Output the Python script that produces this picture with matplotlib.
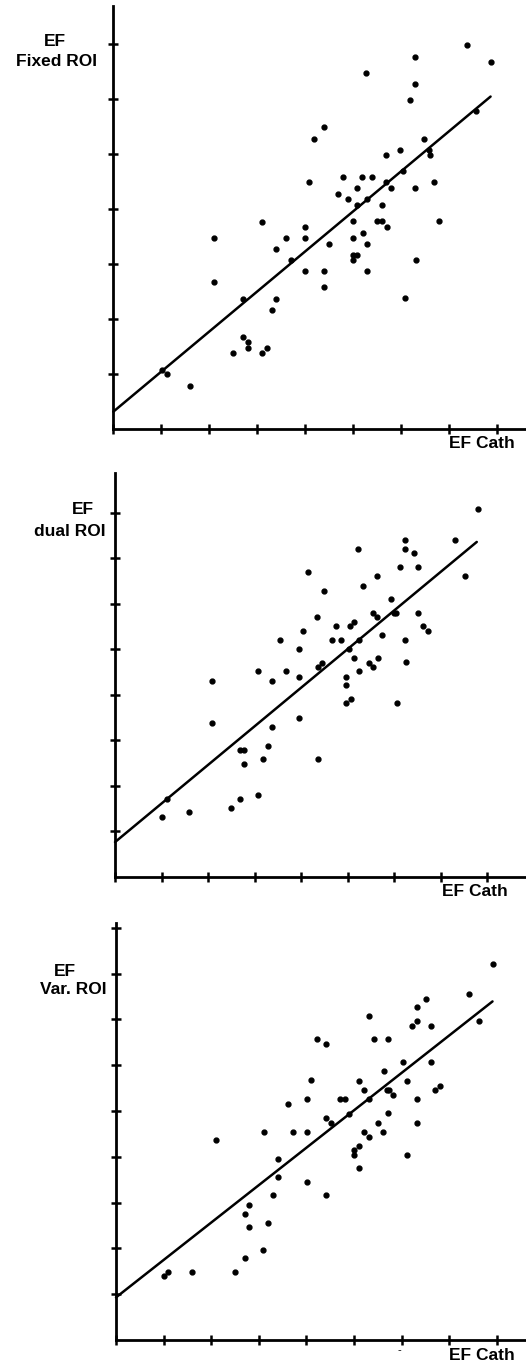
import matplotlib
matplotlib.use('Agg')
import matplotlib.pyplot as plt

plt.rcParams['font.family'] = ['Liberation Sans', 'DejaVu Sans']

# EF Cath vs EF Fixed ROI
cath_fixed = [73.7, 62.8, 78.6, 52.7, 62.9, 61.9, 75.6, 43.8, 41.8, 64.8, 59.8, 65.8, 56.8, 65.9,
              60.4, 47.9, 51.9, 53.8, 40.8, 56.8, 66.8, 50.8, 57.9, 62.9, 46.8, 48.9, 52.9, 50.8,
              55.9, 30.9, 39.9, 49.9, 55.0, 55.9, 57.0, 67.9, 21.0, 35.9, 39.9, 33.9, 44.9, 50.0,
              52.0, 52.9, 50.0, 50.8, 50.0, 37.0, 39.9, 43.9, 52.9, 63.0, 43.9, 21.0, 27.0, 33.9,
              33.0, 60.8, 27.1, 28.0, 28.0, 25.0, 31.0, 32.0, 10.1, 11.1, 16.0]
roi_fixed = [69.8, 67.7, 66.8, 64.7, 62.8, 59.8, 57.9, 54.9, 52.8, 52.8, 50.8, 50.8, 49.9, 49.9,
             47.0, 45.9, 45.9, 45.9, 44.9, 44.9, 44.9, 43.9, 43.9, 43.9, 42.8, 41.8, 41.8, 40.8,
             40.8, 37.7, 36.8, 37.8, 37.8, 37.8, 36.8, 37.8, 34.7, 34.7, 34.7, 32.7, 33.7, 34.8,
             35.7, 33.7, 31.7, 31.7, 30.8, 30.7, 28.8, 28.8, 28.8, 30.8, 25.8, 26.7, 23.7, 23.7,
             21.7, 23.9, 16.8, 15.8, 14.8, 13.9, 13.9, 14.8, 10.8, 10.0, 7.9]

# EF Cath vs EF dual ROI
cath_dual = [78.0, 62.3, 73.1, 52.3, 62.3, 64.2, 61.3, 65.2, 41.4, 56.3, 75.2, 53.4, 45.0, 59.4,
             55.5, 59.9, 60.4, 65.2, 56.4, 43.4, 47.5, 50.5, 51.5, 66.3, 67.4, 40.5, 57.5, 35.5,
             46.6, 48.6, 52.4, 62.4, 39.6, 50.4, 51.5, 56.6, 44.6, 54.6, 62.6, 43.6, 55.5, 30.8,
             36.7, 52.5, 39.6, 49.7, 20.9, 33.8, 49.7, 49.7, 50.7, 60.6, 20.9, 39.6, 33.8, 26.9,
             27.8, 32.8, 27.8, 31.8, 43.7, 30.8, 26.9, 24.9, 11.1, 10.0, 16.0]
roi_dual = [80.9, 74.0, 74.0, 72.0, 72.0, 71.1, 68.0, 68.0, 67.0, 66.0, 66.0, 64.0, 62.7, 61.0,
            58.0, 58.0, 58.0, 58.0, 57.0, 57.0, 55.0, 55.0, 56.0, 55.0, 54.1, 54.0, 53.1, 52.0,
            52.0, 52.0, 52.0, 52.0, 50.1, 50.1, 48.1, 48.1, 47.0, 47.0, 47.1, 46.1, 46.1, 45.1,
            45.1, 45.1, 44.0, 44.0, 43.0, 43.0, 42.1, 38.1, 39.1, 38.1, 33.8, 34.9, 32.8, 27.9,
            27.9, 28.8, 24.8, 25.9, 25.9, 18.0, 17.1, 15.2, 17.1, 13.2, 14.2]

# EF Cath vs EF Var. ROI
cath_var = [79.1, 74.2, 65.2, 63.2, 53.1, 63.2, 62.2, 66.2, 76.2, 42.2, 44.1, 54.2, 57.2, 60.2,
            66.2, 56.2, 41.0, 51.1, 61.2, 52.2, 56.9, 57.3, 58.1, 67.1, 68.1, 40.1, 36.1, 47.1,
            48.1, 53.1, 63.2, 44.1, 45.1, 49.0, 57.2, 55.1, 63.2, 31.0, 37.1, 40.1, 52.2, 56.1,
            53.2, 21.1, 51.1, 50.1, 50.1, 61.1, 34.0, 51.1, 34.0, 40.1, 33.0, 44.1, 28.0, 27.0,
            32.0, 28.0, 30.9, 27.0, 25.0, 10.0, 11.0, 16.0]
roi_var = [82.2, 75.5, 74.5, 72.6, 70.7, 69.7, 68.6, 68.6, 69.6, 65.7, 64.7, 65.7, 65.7, 60.6,
           60.6, 58.7, 56.7, 56.6, 56.6, 54.6, 54.6, 54.6, 53.6, 54.6, 55.5, 52.7, 51.6, 52.6,
           52.6, 52.6, 52.6, 48.5, 47.4, 49.4, 49.5, 47.4, 47.4, 45.5, 45.5, 45.5, 45.5, 45.5,
           44.4, 43.6, 42.4, 41.5, 40.5, 40.5, 39.5, 37.6, 35.6, 34.6, 31.7, 31.6, 29.5, 27.6,
           25.5, 24.6, 19.7, 17.8, 14.9, 13.9, 14.8, 14.8]

# regression lines: intercept, slope, last x
fit_fixed = (3.2, 0.729, 78.6)
fit_dual = (7.6, 0.848, 77.8)
fit_var = (9.3, 0.817, 79.1)

ylabels = [('EF', 'Fixed ROI'), ('EF', 'dual ROI'), ('EF', 'Var. ROI')]
xticks = [0, 10, 20, 30, 40, 50, 60, 70, 80]

W, H = 526, 1363


def add_panel(fig, left, base, top, xscale, yscale):
    """
    Axes whose origin sits at pixel (left, base), running to the right edge
    """
    ax = fig.add_axes([left / W, 1 - base / H, (W - left) / W, (base - top) / H])
    ax.set_xlim(0, (W - left) / xscale)
    ax.set_ylim(0, (base - top) / yscale)
    return ax


def draw_panel(ax, x, y, fit, yticks):
    ax.plot(x, y, 'o', ms=3.5, color='black', mec='black', clip_on=False)
    a, b, xe = fit
    ax.plot([0, xe], [a, a + b * xe], color='black', lw=1.8, solid_capstyle='round', clip_on=False)
    for side in ['top', 'right']:
        ax.spines[side].set_visible(False)
    for side in ['left', 'bottom']:
        ax.spines[side].set_linewidth(2.0)
    ax.set_xticks(xticks)
    ax.set_yticks(yticks)
    ax.tick_params(direction='inout', length=6.5, width=1.8, labelleft=False, labelbottom=False)
    ax.patch.set_alpha(0)


fig = plt.figure(figsize=(W / 100, H / 100), dpi=100)

ax1 = add_panel(fig, 113.3, 429.3, 6, 4.8, 5.5)
draw_panel(ax1, cath_fixed, roi_fixed, fit_fixed, [10, 20, 30, 40, 50, 60, 70])
ax2 = add_panel(fig, 115, 876.7, 473, 4.65, 4.55)
draw_panel(ax2, cath_dual, roi_dual, fit_dual, [10, 20, 30, 40, 50, 60, 70, 80])
ax3 = add_panel(fig, 116, 1340, 923, 4.76, 4.58)
draw_panel(ax3, cath_var, roi_var, fit_var, [10, 20, 30, 40, 50, 60, 70, 80, 90])

tkw = dict(fontsize=12.5, fontweight='bold', ha='center', va='center')
# axis captions, placed in pixels
lab_pos = [((55, 42), (56, 62)), ((83, 510), (70, 531)), ((65, 971), (73, 990))]
for (l1, l2), (p1, p2) in zip(ylabels, lab_pos):
    fig.text(p1[0] / W, 1 - p1[1] / H, l1, **tkw)
    fig.text(p2[0] / W, 1 - p2[1] / H, l2, **tkw)

for px, py in [(482, 443), (475, 891), (482, 1355)]:
    fig.text(px / W, 1 - py / H, 'EF Cath', **tkw)

fig.text(399 / W, 1 - 1350 / H, '-', fontsize=8, ha='center', va='center')

fig.savefig('out.png', dpi=100)
